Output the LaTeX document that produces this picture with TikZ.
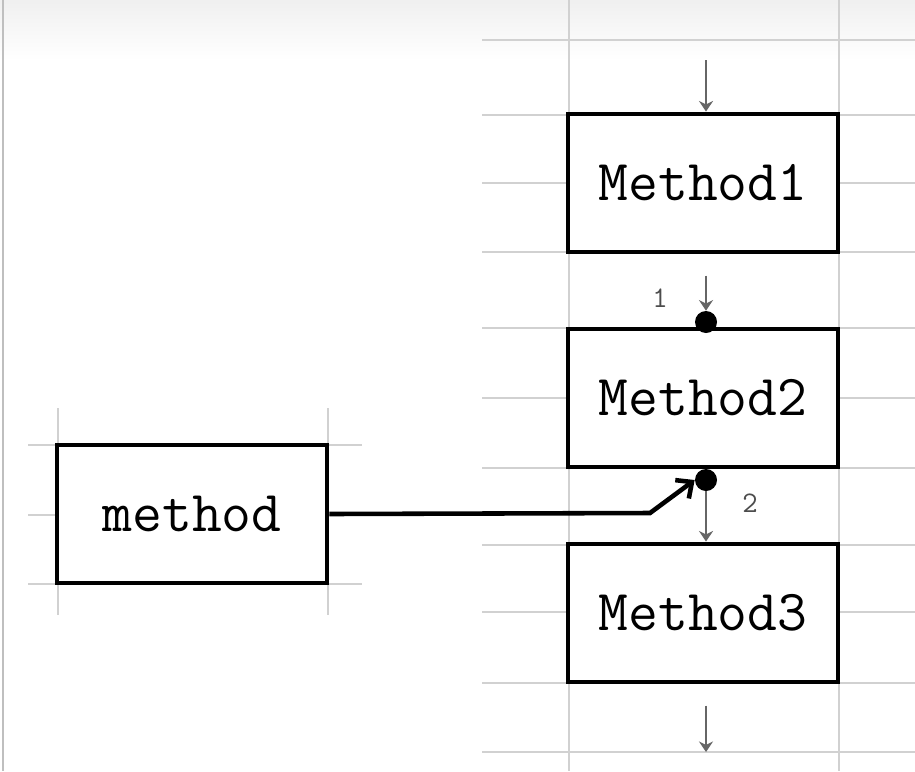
\documentclass[tikz,border=0pt]{standalone}
\usepackage{fontspec}
\usepackage{tikz}
\usetikzlibrary{arrows.meta, positioning, calc}

\begin{document}
\begin{tikzpicture}[x=0.02cm, y=-0.02cm,
    box/.style={draw=black, line width=2.8pt, fill=white, minimum width=5.4cm,
        minimum height=2.76cm, inner sep=0pt, font=\ttfamily\fontsize{33}{33}\selectfont},
    flow/.style={draw=black!60, line width=1.3pt, -{Stealth[length=6pt,width=8pt]}},
    gridline/.style={draw=black!18, line width=1pt},
    dot/.style={circle, fill=black, inner sep=0pt, minimum size=0.44cm},
    num/.style={text=black!70, font=\ttfamily\fontsize{17}{17}\selectfont}]
    \useasboundingbox (0,0) rectangle (915,771);

    % Sheet background
    \fill[white] (0,0) rectangle (915,771);
    \shade[top color=black!6, bottom color=white] (0,0) rectangle (915,60);
    \draw[black!25, line width=1pt] (3,0) -- (3,771);

    % Grid
    \foreach \y in {40,115,183,252,328,398,468,545,612,683,752}
        \draw[gridline] (482,\y) -- (915,\y);
    \foreach \x in {569,839}
        \draw[gridline] (\x,0) -- (\x,771);
    \foreach \y in {445,515,584} {
        \draw[gridline] (28,\y) -- (57,\y);
        \draw[gridline] (328,\y) -- (362,\y);
    }
    \foreach \x in {58,328}
        \draw[gridline] (\x,408) -- (\x,615);

    % Boxes
    \node[box] (m1) at (703,183) {Method1};
    \node[box] (m2) at (703,398) {Method2};
    \node[box] (m3) at (703,613) {Method3};
    \node[box] (meth) at (192,514) {method};

    % Join points
    \node[dot] (dot1) at (706,322) {};
    \node[dot] (dot2) at (706,480) {};
    \coordinate (in) at (706,60);
    \coordinate (out) at (706,752);
    \coordinate (bend) at (650,513);

    % Flow
    \draw[flow] (in) -- (in |- m1.north);
    \draw[flow, shorten <=12pt] (dot1 |- m1.south) -- (dot1.north);
    \draw[flow] (dot2.south) -- (dot2 |- m3.north);
    \draw[flow, shorten <=12pt] (out |- m3.south) -- (out);
    \draw[line width=2.6pt, -{Straight Barb[length=7pt,width=13pt]}]
        (meth.east) -- (bend) -- (dot2.west);

    \node[num] (l1) at (660,298) {1};
    \node[num] (l2) at (750,503) {2};
\end{tikzpicture}
\end{document}
